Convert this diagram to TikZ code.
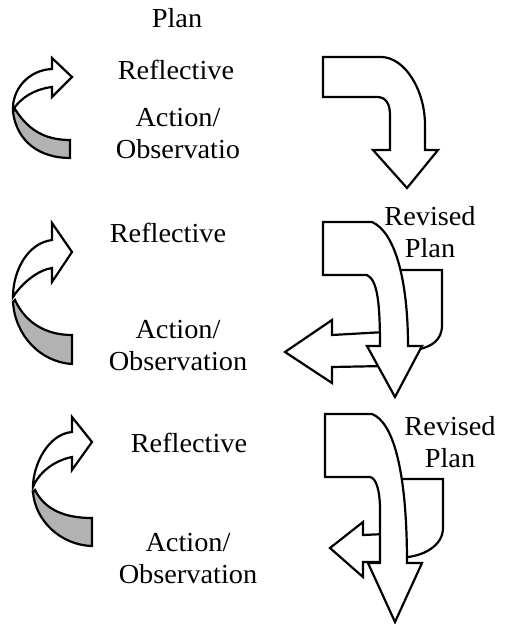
\documentclass[tikz,border=0pt]{standalone}
\usepackage{fontspec}
\setmainfont[FakeStretch=1.03]{Liberation Serif}
\begin{document}
\begin{tikzpicture}[x=1pt,y=-1pt,
  lbl/.style={font=\fontsize{27.5}{31.5}\selectfont, inner sep=0pt, align=center, anchor=base},
  arrowshape/.style={draw=black, line width=2.2pt, fill=white, line join=miter},
  backband/.style={draw=black, line width=2.2pt, fill=black!30}]
\useasboundingbox (0,0) rectangle (504,624);
\fill[white] (0,0) rectangle (504,624);

% ---------- row 1 ----------
\node[lbl] (plan) at (177,27) {Plan};
\node[lbl] (refl1) at (176,79) {Reflective};
\node[lbl] (act1) at (178,158) {Action/\\Observatio};

% left curved arrow row 1
\path[backband] (15,109) .. controls (28,130) and (45,140) .. (70,140) -- (70,158)
  .. controls (40,158) and (17,142) .. (13,112) -- cycle;
\path[arrowshape] (13,110) .. controls (12,90) and (28,70) .. (52,69) -- (52,58) -- (72,77)
  -- (52,97) -- (52,87) .. controls (35,89) and (20,98) .. (13,110) -- cycle;

% right bent arrow row 1
\path[arrowshape] (323,57) -- (382,57) .. controls (405,58) and (425,90) .. (425,125) -- (425,150)
  -- (438,150) -- (407,188) -- (373,150) -- (390,150) -- (390,115)
  .. controls (390,104) and (386,97) .. (377,97) -- (323,97) -- cycle;

% ---------- row 2 ----------
\node[lbl] (refl2) at (168,242) {Reflective};
\node[lbl] (act2) at (178,370) {Action/\\Observation};
\node[lbl] (rev2) at (430,257) {Revised\\Plan};

\path[backband] (15,300) .. controls (25,322) and (45,335) .. (72,335) -- (72,364)
  .. controls (40,362) and (15,335) .. (13,302) -- cycle;
\path[arrowshape] (13,297) .. controls (13,270) and (28,243) .. (52,240) -- (52,223) -- (72,252)
  -- (52,282) -- (52,268) .. controls (38,270) and (22,283) .. (13,297) -- cycle;

% left-pointing arrow row 2
\path[arrowshape] (285,352) -- (332,320) -- (332,335) -- (385,332) -- (385,366)
  -- (332,367) -- (332,383) -- cycle;
% back flap row 2
\path[arrowshape] (390,270) -- (442,270) -- (442,325) .. controls (442,340) and (432,346) .. (420,349)
  -- (395,349) -- cycle;
% main down arrow row 2
\path[arrowshape] (323,222) -- (372,222) .. controls (395,232) and (408,280) .. (408,346)
  -- (422,346) -- (395,397) -- (367,346) -- (380,346)
  .. controls (380,300) and (377,280) .. (367,275) -- (323,275) -- cycle;

% ---------- row 3 ----------
\node[lbl] (refl3) at (189,452) {Reflective};
\node[lbl] (act3) at (188,583) {Action/\\Observation};
\node[lbl] (rev3) at (450,467) {Revised\\Plan};

\path[backband] (35,490) .. controls (45,510) and (65,518) .. (92,518) -- (92,546)
  .. controls (60,545) and (35,520) .. (33,492) -- cycle;
\path[arrowshape] (33,487) .. controls (33,465) and (48,434) .. (72,432) -- (72,417) -- (92,442)
  -- (72,470) -- (72,457) .. controls (57,460) and (40,470) .. (33,487) -- cycle;

% left-pointing arrow row 3
\path[arrowshape] (330,548) -- (363,522) -- (363,535) -- (385,534) -- (385,562)
  -- (363,562) -- (363,577) -- cycle;
% back flap row 3
\path[arrowshape] (395,479) -- (443,479) -- (443,528) .. controls (443,545) and (425,555) .. (408,557)
  -- (395,557) -- cycle;
% main down arrow row 3
\path[arrowshape] (325,414) -- (372,414) .. controls (393,422) and (407,470) .. (407,563)
  -- (422,563) -- (395,622) -- (368,563) -- (380,563) -- (380,510)
  .. controls (380,490) and (376,478) .. (370,477) -- (325,477) -- cycle;
\end{tikzpicture}
\end{document}
